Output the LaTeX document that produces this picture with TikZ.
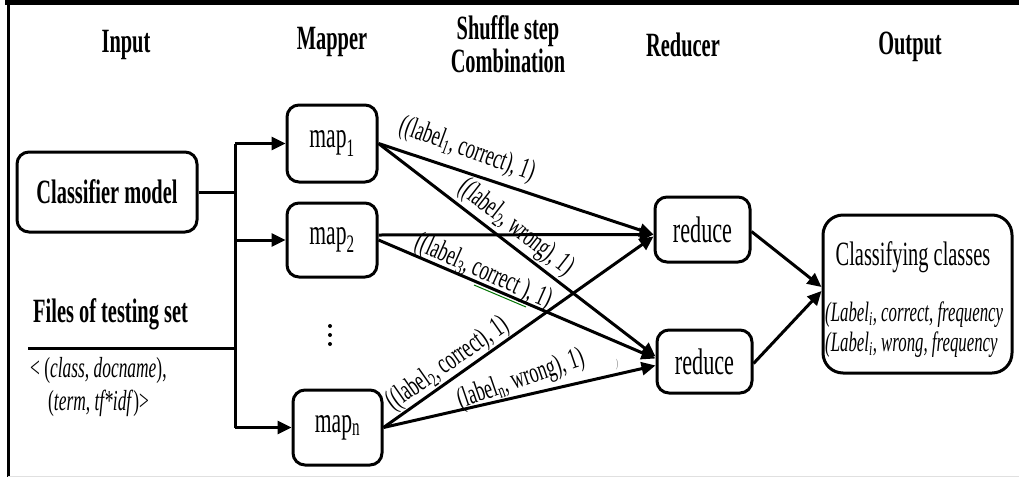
\documentclass[tikz,border=0pt]{standalone}
\usepackage{graphicx}
\usepackage{fontspec}
\setmainfont{Liberation Serif}[FakeStretch=0.6]
\newfontfamily\lblfont{Liberation Serif}
\newcommand\squeezed[1]{\scalebox{0.62}[1]{#1}}
\usetikzlibrary{arrows.meta,calc}

\tikzset{
  box/.style={draw, line width=3pt, rounded corners=12pt, inner sep=0pt},
  head/.style={font=\bfseries\fontsize{34}{33}\selectfont, align=center},
  wire/.style={line width=3pt},
  arr/.style={line width=3pt, -{Triangle[length=14pt,width=13pt]}},
  lbl/.style={inner sep=0pt, font=\lblfont\fontsize{29}{30}\selectfont},
  dot/.style={fill, circle, inner sep=0pt, minimum size=4pt},
}

\begin{document}
\begin{tikzpicture}[x=1pt, y=-1pt]
\useasboundingbox (0,0) rectangle (1019,477);

% frame
\draw[line width=5pt] (5,2) -- (1019,2);
\draw[line width=3pt] (8,0) -- (8,477);
\draw[black!12, line width=1pt] (8,476) -- (1019,476);

% column headings
\node[head] (hin)  at (126,45) {Input};
\node[head] (hmap) at (332,42) {Mapper};
\node[head] (hsh)  at (508,44) {Shuffle step\\Combination};
\node[head] (hred) at (683,45) {Reducer};
\node[head] (hout) at (910,47) {Output};

% input side
\node[box, minimum width=180pt, minimum height=80pt,
      font=\bfseries\fontsize{34}{35}\selectfont] (cm) at (107,192) {Classifier model};
\node[anchor=base west, inner sep=0pt, font=\bfseries\fontsize{34}{36}\selectfont]
      (files) at (33,322) {Files of testing set};
\node[anchor=base west, inner sep=0pt, font=\fontsize{29}{31}\selectfont]
      (rec1) at (30,377) {< (\textit{class, docname}),};
\node[anchor=base west, inner sep=0pt, font=\fontsize{29}{31}\selectfont]
      (rec2) at (48,410) {(\textit{term, tf*idf})>};

% mappers
\node[box, minimum width=90pt, minimum height=77pt, font=\fontsize{36}{37}\selectfont]
      (m1) at (332,143.5) {map\textsubscript{1}};
\node[box, minimum width=90pt, minimum height=74pt, font=\fontsize{36}{37}\selectfont]
      (m2) at (332,240) {map\textsubscript{2}};
\node[box, minimum width=89pt, minimum height=75pt, font=\fontsize{36}{37}\selectfont]
      (mn) at (337.5,427.5) {map\textsubscript{n}};

% vertical ellipsis between the mappers
\node[dot] (d1) at (330,326) {};
\node[dot] (d2) at (330,335) {};
\node[dot] (d3) at (330,344) {};

% reducers
\node[box, minimum width=95pt, minimum height=65pt, font=\fontsize{37}{38}\selectfont]
      (r1) at (702.5,229.5) {reduce};
\node[box, minimum width=95pt, minimum height=63pt, font=\fontsize{37}{38}\selectfont]
      (r2) at (704.5,361.5) {reduce};

% output
\node[box, rounded corners=20pt, minimum width=189pt, minimum height=158pt] (out) at (917.5,294) {};
\node[font=\fontsize{34}{36}\selectfont] (oname) at (913,257) {Classifying classes};
\node[anchor=base west, inner sep=0pt, font=\itshape\fontsize{28}{30}\selectfont]
      (oc) at (825,321) {(Label\textsubscript{i}, correct, frequency};
\node[anchor=base west, inner sep=0pt, font=\itshape\fontsize{28}{30}\selectfont]
      (ow) at (825,351) {(Label\textsubscript{i}, wrong, frequency};

% input distribution
\coordinate (jt) at (235,143.5);
\coordinate (jb) at (235,427.5);
\coordinate (fl) at (28,348);
\draw[wire] (jt) -- (jb);
\draw[wire] (cm.east) -- (cm.east -| jt);
\draw[wire] (fl) -- (fl -| jt);
\draw[arr] (jt) -- (m1.west);
\draw[arr] (jt |- m2.west) -- (m2.west);
\draw[arr] (jb) -- (mn.west);

% map -> reduce
\draw[arr] (m1.east) -- ($(r1.west)+(0,5)$);
\draw[arr] (m1.east) -- ($(r2.west)+(0,-5)$);
\draw[arr] ($(m2.east)+(0,-5)$) -- ($(r1.west)+(0,5)$);
\draw[arr] (m2.east) -- ($(r2.west)+(0,-3)$);
\draw[arr] (mn.east) -- ($(r1.west)+(0,7)$);
\draw[arr] (mn.east) -- ($(r2.west)+(0,4)$);

% reduce -> output
\draw[arr] ($(r1.east)+(0,2)$) -- ($(out.west)+(0,-7)$);
\draw[arr] ($(r2.east)+(0,2)$) -- ($(out.west)+(0,-3)$);

% pair labels (squeezed before rotating, so the glyphs stay upright)
\node[lbl, rotate=-20] (l1) at (467,150) {\squeezed{((label\textsubscript{1}, correct), 1)}};
\node[lbl, rotate=-38] (l2) at (516,228) {\squeezed{((label\textsubscript{2}, wrong), 1)}};
\draw[green!45!black, line width=1pt] (474,285) -- (526,307);
\node[lbl, rotate=-24] (l3) at (483,272) {\squeezed{((label\textsubscript{3}, correct ), 1)}};
\node[lbl, rotate=35] (l4) at (448,364) {\squeezed{((label\textsubscript{2}, correct), 1)}};
\node[lbl, rotate=19] (l5) at (521,380) {\squeezed{(label\textsubscript{n}, wrong), 1)}};
\node[inner sep=0pt, text=black!45, font=\fontsize{12}{12}\selectfont] (tick) at (617,365) {)};
\end{tikzpicture}
\end{document}
